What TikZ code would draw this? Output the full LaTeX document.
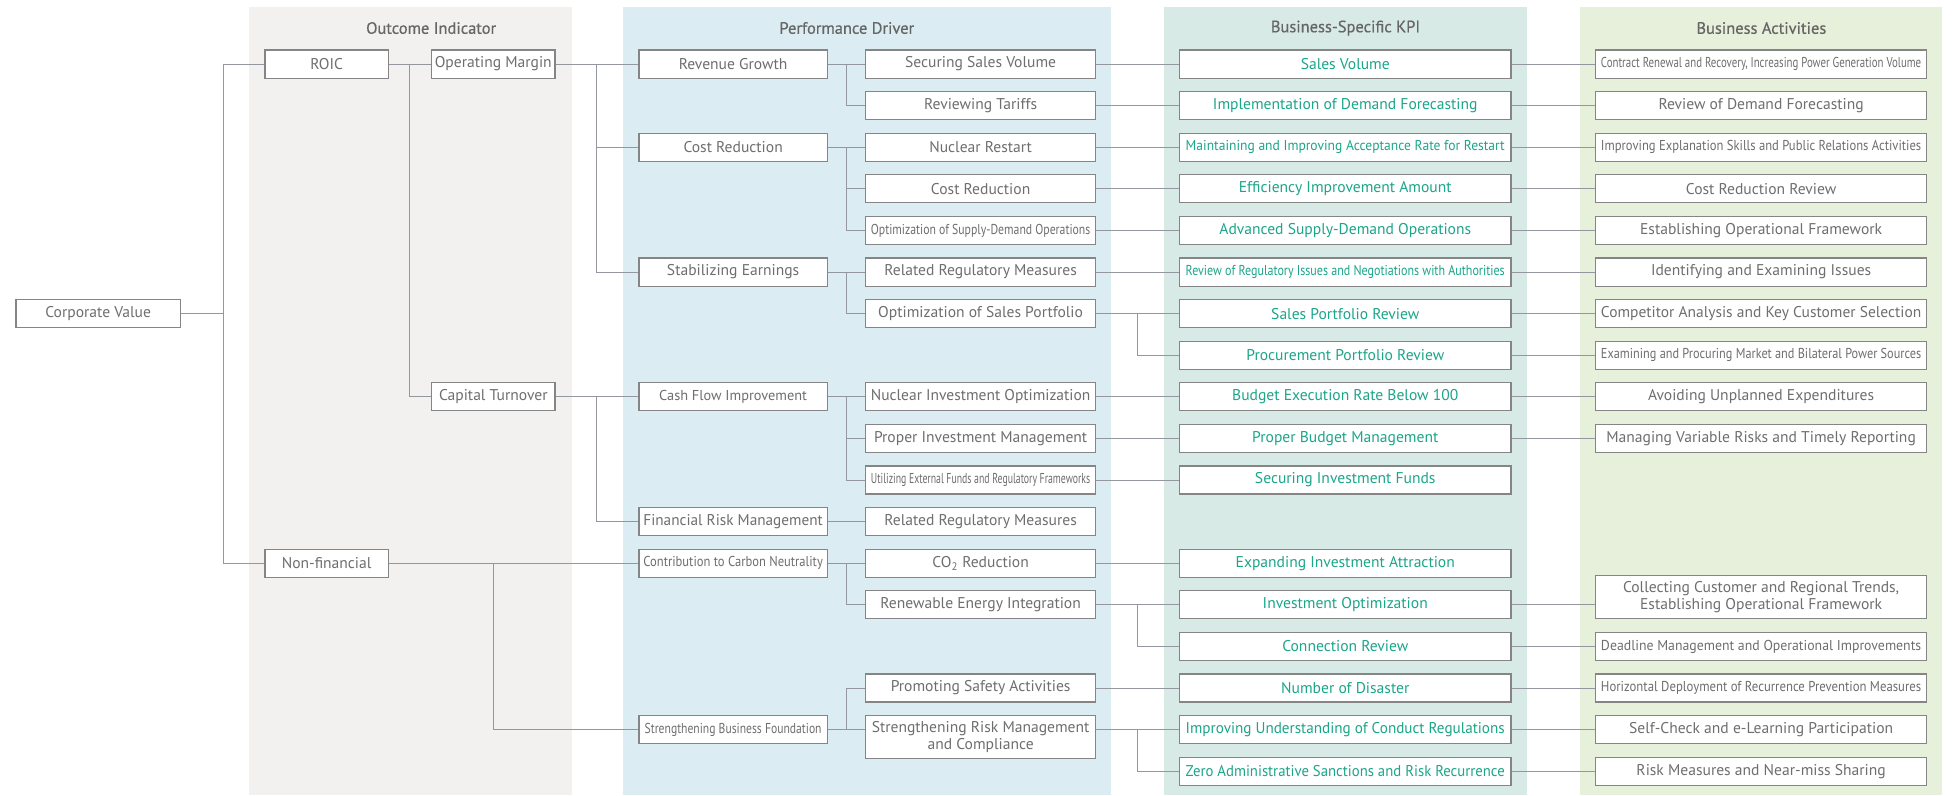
\documentclass[tikz,border=0pt]{standalone}
\usepackage{fontspec}
\setmainfont{PT Sans}
\newfontfamily\ttlfont{PT Sans}[FakeBold=0.6]
\usepackage{graphicx}
\definecolor{bandO}{HTML}{F2F1EF}
\definecolor{bandP}{HTML}{DBEDF3}
\definecolor{bandK}{HTML}{D8EAE5}
\definecolor{bandA}{HTML}{E7F0DA}
\definecolor{boxc}{HTML}{858585}
\definecolor{txtc}{HTML}{6E6E6E}
\definecolor{kpic}{HTML}{1BA58A}
\definecolor{linec}{HTML}{9597A0}
\definecolor{ttlc}{HTML}{666666}
\newsavebox\fitbx
\newcommand\fw[2]{\sbox\fitbx{#2}\ifdim\wd\fitbx>#1\relax\resizebox{#1}{\height}{\usebox\fitbx}\else\usebox\fitbx\fi}
\newcommand\mainsz{\fontsize{12.5}{13.4}\selectfont}
\newcommand\smsz{\fontsize{11.5}{13.4}\selectfont}
\tikzset{
 bx/.style={draw=boxc, line width=0.9pt, fill=white, minimum height=22.5pt, inner sep=0pt, text=txtc, font=\mainsz, anchor=center, align=center},
 obox/.style={bx, minimum width=99pt},
 cvbox/.style={bx, minimum width=132pt},
 pone/.style={bx, minimum width=151pt},
 ptwo/.style={bx, minimum width=184.5pt},
 kbox/.style={bx, minimum width=266pt, text=kpic},
 abox/.style={bx, minimum width=266pt},
 conn/.style={draw=linec, line width=0.8pt},
 ttl/.style={text=ttlc, font=\ttlfont\fontsize{13.2}{14}\selectfont, inner sep=0pt}
}
\begin{document}
\begin{tikzpicture}[x=1pt,y=-1pt]
\useasboundingbox (0,0) rectangle (1568,638);
% bands
\fill[bandO] (200,5.5) rectangle (459,638);
\fill[bandP] (500,5.5) rectangle (891.5,638);
\fill[bandK] (934,5.5) rectangle (1225.2,638);
\fill[bandA] (1267.6,5.5) rectangle (1558.5,638);
\node[ttl] (tO) at (346,22.5) {Outcome Indicator};
\node[ttl] (tP) at (679.5,22.5) {Performance Driver};
\node[ttl] (tK) at (1079.7,22.5) {Business-Specific KPI};
\node[ttl] (tA) at (1413.4,22.5) {Business Activities};
% outcome
\node[cvbox] (cv) at (78.8,251.68) {Corporate Value};
\node[obox] (roic) at (262.1,51.4) {ROIC};
\node[obox] (om) at (395.85,51.4) {\fw{95pt}{Operating Margin}};
\node[obox] (ct) at (395.85,318.44) {\fw{95pt}{Capital Turnover}};
\node[obox] (nf) at (262.1,451.96) {Non-financial};
% performance col 1
\node[pone] (rg) at (588.3,51.4) {Revenue Growth};
\node[pone] (cr) at (588.3,118.16) {Cost Reduction};
\node[pone] (se) at (588.3,218.3) {Stabilizing Earnings};
\node[pone] (cf) at (588.3,318.44) {\fw{140pt}{\smsz Cash Flow Improvement}};
\node[pone] (fr) at (588.3,418.58) {\fw{144pt}{Financial Risk Management}};
\node[pone] (cc) at (588.3,451.96) {\fw{144pt}{\smsz Contribution to Carbon Neutrality}};
\node[pone] (sb) at (588.3,585.48) {\fw{142pt}{\smsz Strengthening Business Foundation}};
% performance col 2
\node[ptwo] (ssv) at (786.9,51.4) {Securing Sales Volume};
\node[ptwo] (rt) at (786.9,84.78) {Reviewing Tariffs};
\node[ptwo] (nr) at (786.9,118.16) {Nuclear Restart};
\node[ptwo] (crd) at (786.9,151.54) {Cost Reduction};
\node[ptwo] (osd) at (786.9,184.92) {\fw{176pt}{\smsz Optimization of Supply-Demand Operations}};
\node[ptwo] (rrm) at (786.9,218.3) {\fw{176pt}{Related Regulatory Measures}};
\node[ptwo] (osp) at (786.9,251.68) {\fw{176pt}{Optimization of Sales Portfolio}};
\node[ptwo] (nio) at (786.9,318.44) {\fw{176pt}{Nuclear Investment Optimization}};
\node[ptwo] (pim) at (786.9,351.82) {\fw{176pt}{Proper Investment Management}};
\node[ptwo] (uef) at (786.9,385.2) {\fw{176pt}{\smsz Utilizing External Funds and Regulatory Frameworks}};
\node[ptwo] (rrmb) at (786.9,418.58) {\fw{176pt}{Related Regulatory Measures}};
\node[ptwo] (co) at (786.9,451.96) {CO\textsubscript{2} Reduction};
\node[ptwo] (rei) at (786.9,485.34) {\fw{176pt}{Renewable Energy Integration}};
\node[ptwo] (psa) at (786.9,552.1) {\fw{176pt}{Promoting Safety Activities}};
\node[ptwo, minimum height=35pt] (srm) at (786.9,591.5) {\fw{176pt}{Strengthening Risk Management}\\and Compliance};
% KPI
\node[kbox] (ka) at (1079.5,51.4) {Sales Volume};
\node[kbox] (kb) at (1079.5,84.78) {\fw{256pt}{Implementation of Demand Forecasting}};
\node[kbox] (kc) at (1079.5,118.16) {\fw{256pt}{\smsz Maintaining and Improving Acceptance Rate for Restart}};
\node[kbox] (kd) at (1079.5,151.54) {Efficiency Improvement Amount};
\node[kbox] (ke) at (1079.5,184.92) {Advanced Supply-Demand Operations};
\node[kbox] (kf) at (1079.5,218.3) {\fw{256pt}{\smsz Review of Regulatory Issues and Negotiations with Authorities}};
\node[kbox] (kg) at (1079.5,251.68) {Sales Portfolio Review};
\node[kbox] (kh) at (1079.5,285.06) {Procurement Portfolio Review};
\node[kbox] (ki) at (1079.5,318.44) {Budget Execution Rate Below 100};
\node[kbox] (kj) at (1079.5,351.82) {Proper Budget Management};
\node[kbox] (kk) at (1079.5,385.2) {Securing Investment Funds};
\node[kbox] (km) at (1079.5,451.96) {Expanding Investment Attraction};
\node[kbox] (kn) at (1079.5,485.34) {Investment Optimization};
\node[kbox] (ko) at (1079.5,518.72) {Connection Review};
\node[kbox] (kp) at (1079.5,552.1) {Number of Disaster};
\node[kbox] (kq) at (1079.5,585.48) {\fw{256pt}{Improving Understanding of Conduct Regulations}};
\node[kbox] (kr) at (1079.5,618.86) {\fw{256pt}{Zero Administrative Sanctions and Risk Recurrence}};
% activities
\node[abox] (aa) at (1413.2,51.4) {\fw{257pt}{\smsz Contract Renewal and Recovery, Increasing Power Generation Volume}};
\node[abox] (ab) at (1413.2,84.78) {Review of Demand Forecasting};
\node[abox] (ac) at (1413.2,118.16) {\fw{257pt}{\smsz Improving Explanation Skills and Public Relations Activities}};
\node[abox] (ad) at (1413.2,151.54) {Cost Reduction Review};
\node[abox] (ae) at (1413.2,184.92) {Establishing Operational Framework};
\node[abox] (af) at (1413.2,218.3) {Identifying and Examining Issues};
\node[abox] (ag) at (1413.2,251.68) {\fw{257pt}{Competitor Analysis and Key Customer Selection}};
\node[abox] (ah) at (1413.2,285.06) {\fw{257pt}{\smsz Examining and Procuring Market and Bilateral Power Sources}};
\node[abox] (ai) at (1413.2,318.44) {Avoiding Unplanned Expenditures};
\node[abox] (aj) at (1413.2,351.82) {\fw{257pt}{Managing Variable Risks and Timely Reporting}};
\node[abox, minimum height=35pt] (an) at (1413.2,479) {Collecting Customer and Regional Trends,\\Establishing Operational Framework};
\node[abox] (ao) at (1413.2,518.72) {\fw{257pt}{\smsz Deadline Management and Operational Improvements}};
\node[abox] (ap) at (1413.2,552.1) {\fw{257pt}{\smsz Horizontal Deployment of Recurrence Prevention Measures}};
\node[abox] (aq) at (1413.2,585.48) {Self-Check and e-Learning Participation};
\node[abox] (ar) at (1413.2,618.86) {Risk Measures and Near-miss Sharing};
% junctions
\coordinate (j0) at (179,251.68);
\coordinate (j1) at (328.7,51.4);
\coordinate (j2) at (479,51.4);
\coordinate (j3) at (479,318.44);
\coordinate (j4) at (395.9,451.96);
\coordinate (j5) at (679.1,51.4);
\coordinate (j6) at (679.1,118.16);
\coordinate (j7) at (679.1,218.3);
\coordinate (j8) at (679.1,318.44);
\coordinate (j9) at (679.1,451.96);
\coordinate (j10) at (679.1,585.48);
\coordinate (j11) at (912.9,251.68);
\coordinate (j12) at (912.9,485.34);
\coordinate (j13) at (912.9,585.48);
% connectors
\draw[conn] (cv.east) -- (j0);
\draw[conn] (roic.west) -| (j0) |- (nf.west);
\draw[conn] (roic.east) -- (om.west);
\draw[conn] (j1) |- (ct.west);
\draw[conn] (om.east) -- (rg.west);
\draw[conn] (j2) |- (cr.west);
\draw[conn] (j2) |- (se.west);
\draw[conn] (ct.east) -- (cf.west);
\draw[conn] (j3) |- (fr.west);
\draw[conn] (nf.east) -- (cc.west);
\draw[conn] (j4) |- (sb.west);
\draw[conn] (rg.east) -- (ssv.west);
\draw[conn] (j5) |- (rt.west);
\draw[conn] (cr.east) -- (nr.west);
\draw[conn] (j6) |- (crd.west);
\draw[conn] (j6) |- (osd.west);
\draw[conn] (se.east) -- (rrm.west);
\draw[conn] (j7) |- (osp.west);
\draw[conn] (cf.east) -- (nio.west);
\draw[conn] (j8) |- (pim.west);
\draw[conn] (j8) |- (uef.west);
\draw[conn] (fr.east) -- (rrmb.west);
\draw[conn] (cc.east) -- (co.west);
\draw[conn] (j9) |- (rei.west);
\draw[conn] (sb.east) -- (sb.east -| srm.west);
\draw[conn] (j10) |- (psa.west);
\draw[conn] (ssv.east) -- (ka.west);
\draw[conn] (rt.east) -- (kb.west);
\draw[conn] (nr.east) -- (kc.west);
\draw[conn] (crd.east) -- (kd.west);
\draw[conn] (osd.east) -- (ke.west);
\draw[conn] (rrm.east) -- (kf.west);
\draw[conn] (osp.east) -- (kg.west);
\draw[conn] (j11) |- (kh.west);
\draw[conn] (nio.east) -- (ki.west);
\draw[conn] (pim.east) -- (kj.west);
\draw[conn] (uef.east) -- (kk.west);
\draw[conn] (co.east) -- (km.west);
\draw[conn] (rei.east) -- (kn.west);
\draw[conn] (j12) |- (ko.west);
\draw[conn] (psa.east) -- (kp.west);
\draw[conn] (kq.west -| srm.east) -- (kq.west);
\draw[conn] (j13) |- (kr.west);
\draw[conn] (ka.east) -- (aa.west);
\draw[conn] (kb.east) -- (ab.west);
\draw[conn] (kc.east) -- (ac.west);
\draw[conn] (kd.east) -- (ad.west);
\draw[conn] (ke.east) -- (ae.west);
\draw[conn] (kf.east) -- (af.west);
\draw[conn] (kg.east) -- (ag.west);
\draw[conn] (kh.east) -- (ah.west);
\draw[conn] (ki.east) -- (ai.west);
\draw[conn] (kj.east) -- (aj.west);
\draw[conn] (kn.east) -- (kn.east -| an.west);
\draw[conn] (ko.east) -- (ao.west);
\draw[conn] (kp.east) -- (ap.west);
\draw[conn] (kq.east) -- (aq.west);
\draw[conn] (kr.east) -- (ar.west);
\end{tikzpicture}
\end{document}
